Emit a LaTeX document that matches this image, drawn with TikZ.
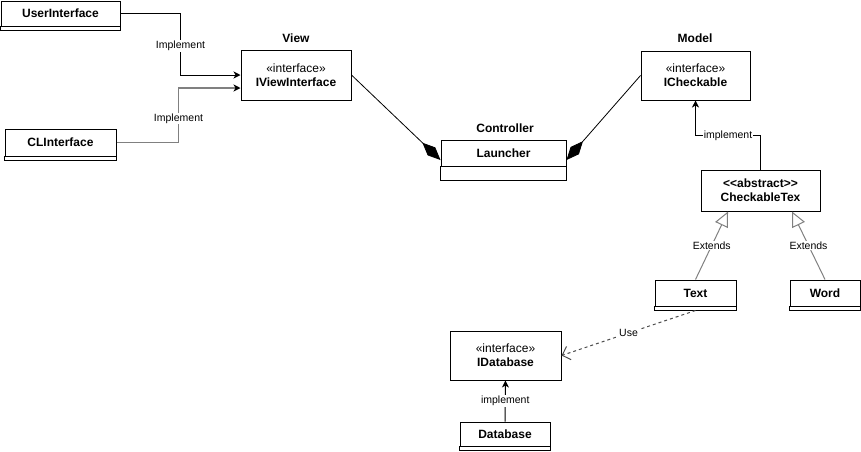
\documentclass[tikz,border=0pt]{standalone}
\usepackage{fontspec}
\setmainfont{Liberation Sans}
\usepackage{tikz}
\usetikzlibrary{arrows.meta}
\definecolor{edgegray}{HTML}{808080}

\begin{document}
\begin{tikzpicture}[x=1pt, y=-1pt, line width=1pt,
  classbox/.style={draw, inner sep=0pt, align=center, font=\fontsize{12}{14}\selectfont},
  pkg/.style={font=\fontsize{12}{14}\selectfont\bfseries},
  lbl/.style={fill=white, inner sep=1pt, font=\fontsize{10.5}{12}\selectfont},
  impl/.style={-{Stealth[length=7pt, width=7pt, inset=2pt]}},
  grayimpl/.style={draw=edgegray, line width=1.2pt, -{Stealth[length=7pt, width=7pt, inset=2pt, color=black]}},
  extends/.style={draw=edgegray, -{Triangle[open, length=15pt, width=14pt, fill=white]}},
  uses/.style={draw=black!70, dash pattern=on 3pt off 3pt, -{Straight Barb[length=7pt, width=14pt]}},
  compo/.style={line width=0.8pt, -{Diamond[length=25pt, width=11pt]}}]
\useasboundingbox (0,0) rectangle (861,451) ;

% package titles
\node[pkg] (viewlbl) at (296,38) {View} ;
\node[pkg] (modellbl) at (695,38) {Model} ;
\node[pkg] (ctrllbl) at (505,128) {Controller} ;

% classes
\node[classbox, minimum width=119pt, minimum height=25pt] (ui) at (60.5,13.5) {\textbf{UserInterface}} ;
\draw (ui.south west) rectangle ([yshift=-4pt]ui.south east) ;
\node[classbox, minimum width=111pt, minimum height=27pt] (cli) at (60.5,142.5) {\textbf{CLInterface}} ;
\draw (cli.south west) rectangle ([yshift=-4pt]cli.south east) ;
\node[classbox, minimum width=110pt, minimum height=50pt] (iview) at (296,75) {«interface»\\\textbf{IViewInterface}} ;
\node[classbox, minimum width=125pt, minimum height=26pt] (lau) at (503.5,153) {\textbf{Launcher}} ;
\draw (lau.south west) rectangle ([yshift=-14pt]lau.south east) ;
\node[classbox, minimum width=109pt, minimum height=49pt] (chk) at (695.5,75.5) {«interface»\\\textbf{ICheckable}} ;
\node[classbox, minimum width=119pt, minimum height=41pt] (ctex) at (760.5,190.5) {\textbf{<{}<abstract>{}>}\\\textbf{CheckableTex}} ;
\node[classbox, minimum width=81pt, minimum height=26pt] (txt) at (695.5,293) {\textbf{Text}} ;
\draw (txt.south west) rectangle ([yshift=-4pt]txt.south east) ;
\node[classbox, minimum width=70pt, minimum height=26pt] (word) at (825,293) {\textbf{Word}} ;
\draw (word.south west) rectangle ([yshift=-4pt]word.south east) ;
\node[classbox, minimum width=111pt, minimum height=49pt] (idb) at (505.5,355.5) {«interface»\\\textbf{IDatabase}} ;
\node[classbox, minimum width=90pt, minimum height=24pt] (db) at (505,434) {\textbf{Database}} ;
\draw (db.south west) rectangle ([yshift=-4pt]db.south east) ;

% connectors
\draw[impl] (ui.east) -- ++(60,0) -- ++(0,32.5) node[lbl] {Implement} |- (iview.west) ;
\draw[grayimpl] (cli.east) -- ++(62,0) -- ++(0,-24) node[lbl] {Implement} |- ([yshift=-13pt]iview.west) ;
\draw[compo] (iview.east) -- ([yshift=-7pt]lau.west) ;
\draw[compo] (chk.west) -- ([yshift=-7pt]lau.east) ;
\draw[impl] (ctex.north) -- ++(0,-34) -| (chk.south) node[pos=0.25, lbl] {implement} ;
\draw[extends] (txt.north) -- ([xshift=-32.5pt]ctex.south) node[midway, lbl] {Extends} ;
\draw[extends] (word.north) -- ([xshift=31.5pt]ctex.south) node[midway, lbl] {Extends} ;
\draw[uses] ([yshift=-4pt]txt.south) -- (idb.east) node[midway, lbl] {Use} ;
\draw[impl] (db.north) -- (idb.south) node[midway, lbl] {implement} ;
\end{tikzpicture}
\end{document}
